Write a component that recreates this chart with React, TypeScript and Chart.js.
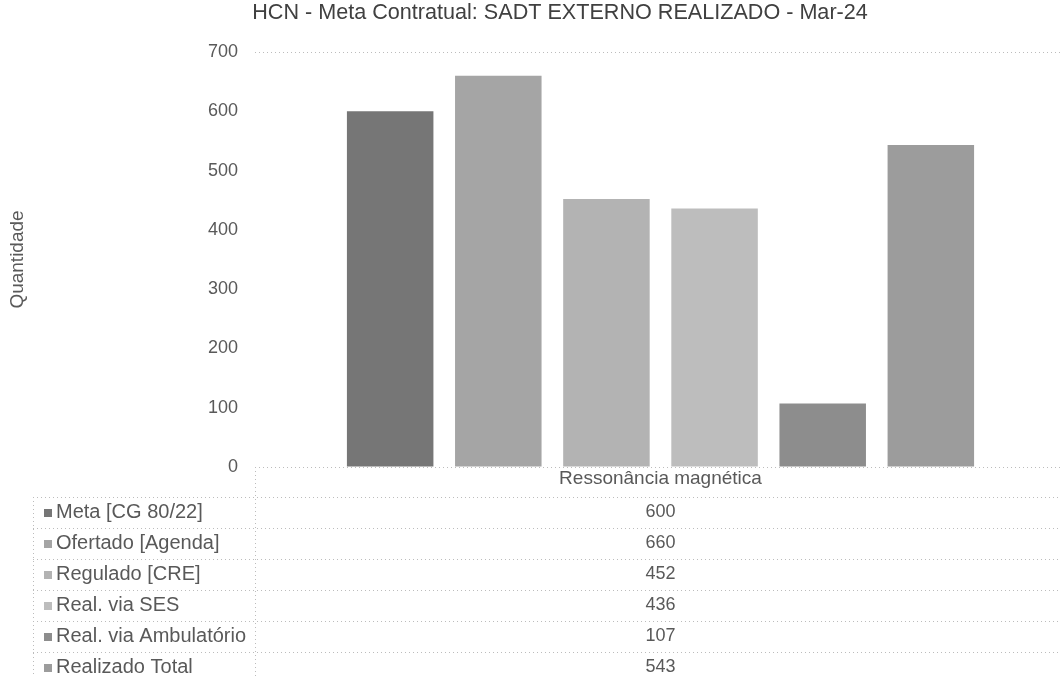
import React, { useEffect, useRef } from "react";
import { Chart, registerables } from "chart.js";

Chart.register(...registerables);

const TITLE = "HCN - Meta Contratual: SADT EXTERNO REALIZADO - Mar-24";
const CATEGORIES = ["Ressonância magnética"];
const SERIES_NAMES = [
  "Meta [CG 80/22]",
  "Ofertado [Agenda]",
  "Regulado [CRE]",
  "Real. via SES",
  "Real. via Ambulatório",
  "Realizado Total",
];
const META = [600];
const OFERTADO = [660];
const REGULADO = [452];
const REAL_SES = [436];
const REAL_AMB = [107];
const REALIZADO_TOTAL = [543];
const SERIES_VALUES = [META, OFERTADO, REGULADO, REAL_SES, REAL_AMB, REALIZADO_TOTAL];
const SERIES_COLORS = ["#767676", "#a5a5a5", "#b3b3b3", "#bdbdbd", "#8d8d8d", "#9c9c9c"];
const Y_MIN = 0;
const Y_MAX = 700;
const Y_STEP = 100;

const FONT = "'Liberation Sans', Arial, sans-serif";
const TEXT = "#595959";
const LINE = "#bcbcbc";

const tablePlugin = {
  id: "dataTable",
  afterDraw(chart: any) {
    const { ctx, chartArea } = chart;
    const xs = chart.scales.x;
    const left = 33;
    const right = chartArea.right;
    const axisX = chartArea.left;
    const top = chartArea.bottom + 30;
    const rowH = 31;
    const n = chart.data.datasets.length;
    ctx.save();
    // title
    ctx.fillStyle = "#404040";
    ctx.font = `21.6px ${FONT}`;
    ctx.textAlign = "center";
    ctx.textBaseline = "middle";
    ctx.fillText(TITLE, 560, 13);

    ctx.strokeStyle = LINE;
    ctx.lineWidth = 1;
    ctx.setLineDash([1, 3]);
    for (let i = 0; i <= n; i++) {
      const y = Math.round(top + i * rowH) + 0.5;
      ctx.beginPath();
      ctx.moveTo(left, y);
      ctx.lineTo(right, y);
      ctx.stroke();
    }
    ctx.beginPath();
    ctx.moveTo(left + 0.5, top);
    ctx.lineTo(left + 0.5, top + n * rowH);
    ctx.stroke();
    ctx.beginPath();
    ctx.moveTo(axisX + 0.5, chartArea.bottom);
    ctx.lineTo(axisX + 0.5, top + n * rowH);
    ctx.stroke();
    ctx.setLineDash([]);

    ctx.textBaseline = "middle";
    chart.data.datasets.forEach((ds: any, i: number) => {
      const cy = top + i * rowH + rowH / 2;
      ctx.fillStyle = ds.backgroundColor;
      ctx.fillRect(44, Math.round(cy - 4), 8, 8);
      ctx.fillStyle = TEXT;
      ctx.textAlign = "left";
      ctx.font = `20px ${FONT}`;
      ctx.fillText(ds.label, 56, cy);
      ctx.font = `18px ${FONT}`;
      ds.data.forEach((v: number, j: number) => {
        ctx.textAlign = "center";
        ctx.fillText(String(v), xs.getPixelForValue(j), cy);
      });
    });
    ctx.restore();
  },
};

export default function App() {
  const ref = useRef<HTMLCanvasElement | null>(null);
  useEffect(() => {
    if (!ref.current) return;
    const chart = new Chart(ref.current, {
      type: "bar",
      data: {
        labels: CATEGORIES,
        datasets: SERIES_NAMES.map((name, i) => ({
          label: name,
          data: SERIES_VALUES[i],
          backgroundColor: SERIES_COLORS[i],
          borderWidth: 0,
          categoryPercentage: 0.8,
          barPercentage: 0.8,
        })),
      },
      options: {
        responsive: false,
        animation: false,
        layout: { padding: { top: 52, left: 0, right: 2, bottom: 0 } },
        plugins: {
          legend: { display: false },
          title: { display: false },
          tooltip: { enabled: false },
        },
        scales: {
          x: {
            grid: { display: false, drawTicks: false },
            border: { display: false },
            ticks: { color: TEXT, font: { family: FONT, size: 19 }, padding: 0 },
            afterFit: (s: any) => {
              s.height = 210;
            },
          },
          y: {
            min: Y_MIN,
            max: Y_MAX,
            ticks: {
              stepSize: Y_STEP,
              color: TEXT,
              font: { family: FONT, size: 18 },
              padding: 17,
            },
            grid: {
              drawTicks: false,
              color: (c: any) =>
                c.tick && (c.tick.value === Y_MAX || c.tick.value === Y_MIN) ? LINE : "rgba(0,0,0,0)",
            },
            border: { display: false, dash: [1, 3] },
            title: {
              display: true,
              text: "Quantidade",
              color: TEXT,
              font: { family: FONT, size: 19 },
              padding: { top: 6, bottom: 0 },
            },
            afterFit: (s: any) => {
              s.width = 255;
            },
          },
        },
      },
      plugins: [tablePlugin],
    });
    return () => chart.destroy();
  }, []);
  return (
    <div style={{ position: "absolute", left: 0, top: 0, width: 1060, height: 677, overflow: "hidden", background: "#fff" }}>
      <canvas ref={ref} width={1068} height={677} style={{ display: "block" }} />
    </div>
  );
}
